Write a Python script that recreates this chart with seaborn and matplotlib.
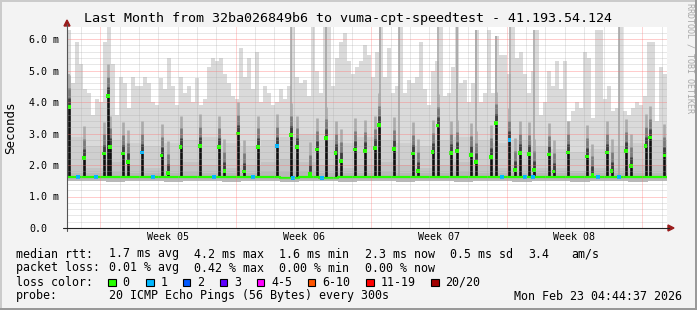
import numpy as np
import pandas as pd
import matplotlib
matplotlib.use("Agg")
import matplotlib.pyplot as plt
from matplotlib.patches import Rectangle, Polygon
from matplotlib.lines import Line2D
import seaborn as sns

sns.set_theme(style="white")
plt.rcParams['font.family'] = ['DejaVu Sans Mono', 'DejaVu Sans']

# ---------------- data ----------------
title = "Last Month from 32ba026849b6 to vuma-cpt-speedtest - 41.193.54.124"
ylabel = "Seconds"
week_labels = ["Week 05", "Week 06", "Week 07", "Week 08"]
ytick_values = [0, 1, 2, 3, 4, 5, 6]
ytick_labels = ["0.0", "1.0 m", "2.0 m", "3.0 m", "4.0 m", "5.0 m", "6.0 m"]

span_days = 31.0
# highest ping per time bin (150 bins across the month), ms
smoke_max = [6.3, 4.6, 5.9, 5.2, 4.4, 4.3, 3.6, 4.1, 4.0, 5.9,
             6.4, 5.2, 3.6, 4.8, 4.6, 3.8, 4.8, 4.5, 4.5, 4.8,
             4.6, 4.0, 3.9, 4.75, 4.4, 5.4, 4.5, 3.9, 4.8, 4.3,
             4.5, 4.0, 4.75, 3.9, 4.1, 5.1, 5.4, 5.3, 5.4, 4.9,
             4.6, 4.2, 4.1, 5.7, 4.8, 5.4, 4.4, 5.6, 4.0, 4.5,
             4.3, 3.9, 4.0, 4.4, 4.1, 4.5, 6.4, 4.8, 4.6, 4.7,
             4.2, 6.4, 5.0, 4.3, 6.4, 6.4, 4.5, 5.4, 5.9, 6.2,
             5.3, 4.9, 5.1, 5.3, 5.8, 5.5, 4.8, 5.6, 6.4, 4.8,
             5.7, 4.3, 4.5, 6.4, 4.3, 4.7, 4.6, 4.8, 5.9, 4.4,
             3.9, 5.0, 5.3, 6.4, 4.2, 4.3, 5.1, 6.4, 4.6, 4.7,
             4.0, 4.6, 6.3, 4.0, 4.3, 6.3, 4.3, 6.1, 5.5, 5.5,
             4.9, 6.4, 5.4, 5.6, 4.9, 4.3, 5.0, 6.3, 3.6, 4.0,
             5.0, 4.5, 5.3, 4.4, 5.3, 3.4, 3.7, 4.0, 3.8, 5.6,
             5.4, 3.5, 6.3, 6.3, 4.1, 4.5, 3.7, 3.8, 6.4, 3.7,
             3.6, 3.8, 4.0, 3.9, 4.2, 5.9, 5.9, 3.4, 5.1, 4.9]

# per-day smoke levels (31 days)
smoke_upper = [2.9, 2.6, 2.8, 2.7, 2.6, 2.7, 2.8, 2.9, 2.7, 2.6, 2.8, 2.9, 3.0, 2.8, 2.7, 2.9,
               2.8, 2.7, 2.6, 2.8, 2.9, 2.8, 2.7, 2.8, 2.6, 2.5, 2.4, 2.5, 2.6, 2.7, 2.8]
smoke_mid = [2.0, 1.9, 2.1, 2.0, 1.9, 2.0, 2.1, 2.0, 1.9, 2.0, 2.1, 2.2, 2.1, 2.0, 1.9, 2.0,
             2.1, 2.0, 1.9, 2.0, 2.1, 2.0, 1.9, 2.0, 1.9, 1.9, 1.8, 1.9, 1.9, 2.0, 2.0]
smoke_low = [1.76, 1.75, 1.77, 1.76, 1.75, 1.76, 1.77, 1.76, 1.75, 1.76, 1.77, 1.78, 1.77, 1.76, 1.75, 1.76,
             1.77, 1.76, 1.75, 1.76, 1.77, 1.76, 1.75, 1.76, 1.75, 1.75, 1.74, 1.75, 1.75, 1.76, 1.76]
smoke_min = [1.48, 1.48, 1.47, 1.48, 1.48, 1.47, 1.48, 1.48, 1.47, 1.48, 1.48, 1.47, 1.48, 1.48, 1.47, 1.48,
             1.48, 1.47, 1.48, 1.48, 1.47, 1.48, 1.48, 1.47, 1.48, 1.48, 1.47, 1.48, 1.48, 1.47, 1.48]
median_base = [1.62, 1.61, 1.62, 1.61, 1.61, 1.62, 1.62, 1.61, 1.61, 1.62, 1.61, 1.60, 1.61, 1.60, 1.61, 1.61,
               1.62, 1.61, 1.61, 1.62, 1.61, 1.62, 1.61, 1.61, 1.62, 1.61, 1.62, 1.61, 1.61, 1.62, 1.61]

# median spikes (day, ms, loss class)
spike_days = [0.12, 0.88, 1.90, 2.13, 2.22, 2.88, 3.14, 3.87, 4.89, 5.22,
              5.87, 6.87, 7.87, 8.13, 8.85, 9.13, 9.87, 10.86, 11.56, 11.90,
              12.54, 12.90, 13.38, 13.88, 14.16, 14.88, 15.38, 15.90, 16.13, 16.88,
              17.89, 18.13, 18.89, 19.15, 19.85, 20.15, 20.87, 21.13, 21.89, 22.15,
              22.86, 23.13, 23.39, 23.88, 24.12, 24.89, 25.14, 25.90, 26.85, 27.15,
              27.89, 28.14, 28.88, 29.14, 29.89, 30.13, 30.87]
spike_vals = [3.85, 2.23, 2.37, 4.20, 2.57, 2.36, 2.10, 2.40, 2.30, 1.75,
              2.57, 2.61, 2.57, 1.82, 3.00, 1.79, 2.57, 2.61, 2.96, 2.57,
              1.72, 2.49, 2.85, 2.39, 2.13, 2.49, 2.44, 2.55, 3.27, 2.51,
              2.36, 1.82, 2.42, 3.25, 2.39, 2.44, 2.32, 2.09, 2.26, 3.33,
              2.80, 1.85, 2.39, 2.35, 1.84, 2.33, 1.79, 2.40, 2.27, 1.68,
              2.40, 1.82, 2.45, 1.97, 2.61, 2.87, 2.30]
spike_loss = [0, 0, 0, 0, 0, 0, 0, 1, 0, 0,
              0, 0, 0, 0, 0, 0, 0, 1, 0, 0,
              0, 0, 0, 0, 0, 0, 0, 0, 0, 0,
              0, 0, 0, 0, 0, 0, 0, 0, 0, 0,
              1, 0, 0, 0, 0, 0, 0, 0, 0, 0,
              0, 0, 0, 0, 0, 0, 0]

# darker smoke trails reaching high
trail_days = [0.10, 11.57, 13.38, 16.15, 17.15, 19.15, 20.15, 21.13, 22.17, 22.89, 24.12, 28.52]
trail_tops = [4.9, 6.4, 6.4, 6.4, 6.4, 6.4, 6.4, 6.3, 6.1, 6.4, 6.3, 6.4]

# single-loss points on the baseline
loss1_days = [0.57, 1.50, 4.44, 7.59, 9.61, 11.68, 13.17, 22.47, 23.66, 24.07, 27.43, 28.52]

legend_lines = [
    [(0, "median rtt:"), (13, "1.7 ms avg"), (25, "4.2 ms max"), (37, "1.6 ms min"),
     (49, "2.3 ms now"), (61, "0.5 ms sd"), (72, "3.4"), (78, "am/s")],
    [(0, "packet loss:"), (13, "0.01 % avg"), (25, "0.42 % max"), (37, "0.00 % min"), (49, "0.00 % now")],
    [(0, "loss color:")],
    [(0, "probe:"), (13, "20 ICMP Echo Pings (56 Bytes) every 300s"), (70, "Mon Feb 23 04:44:37 2026")],
]
loss_labels = ["0", "1", "2", "3", "4-5", "6-10", "11-19", "20/20"]
loss_colors = ["#26ff00", "#00b8ff", "#0059ff", "#5e00ff", "#ff00ff", "#ff5500", "#ff0000", "#a10000"]
loss_box_x = [108, 146, 182.5, 219.5, 256.5, 307.5, 366, 431]

# ---------------- figure ----------------
W, H, DPI = 697, 310, 100
fig = plt.figure(figsize=(W / DPI, H / DPI), dpi=DPI, facecolor='#F3F3F3')

def fx(x):
    return x / W

def fy(y):
    return 1 - y / H

L, R, T, B = 67, 667, 27, 228
ax = fig.add_axes([fx(L), fy(B), (R - L) / W, (B - T) / H])
ax.set_facecolor('white')
ax.set_xlim(0, span_days)
ax.set_ylim(0, (B - T) / 31.5)
for s in ax.spines.values():
    s.set_visible(False)

n = len(smoke_max)
bw = span_days / n
edges = np.arange(n + 1) * bw
days = np.arange(len(smoke_upper) + 1)

def ext(v):
    return list(v) + [v[-1]]

ax.fill_between(edges, 0, ext(smoke_max), step='post', color='#DADADA', lw=0, zorder=1)
ax.fill_between(days, 0, ext(smoke_upper), step='post', color='#CFCFCF', lw=0, zorder=2)
ax.fill_between(days, 0, ext(smoke_mid), step='post', color='#C4C4C4', lw=0, zorder=3)
ax.fill_between(days, 0, ext(smoke_min), step='post', color='white', lw=0, zorder=3.5)
ax.fill_between(days, ext(smoke_min), ext(smoke_low), step='post', color='#B8B8B8', lw=0, zorder=4)

# trails
ax.vlines(trail_days, [median_base[int(d)] for d in trail_days], trail_tops,
          colors='#A0A0A0', lw=1.1, zorder=5)

# spikes with dark shading above
sb = [median_base[int(d)] for d in spike_days]
sv = np.array(spike_vals)
ax.vlines(spike_days, sv, sv + 1.0, colors='#ABABAB', lw=1.9, zorder=5.5)
ax.vlines(spike_days, sv, sv + 0.6, colors='#7A7A7A', lw=1.9, zorder=5.6)
ax.vlines(spike_days, sv, sv + 0.28, colors='#3C3C3C', lw=1.9, zorder=5.7)
ax.vlines(spike_days, sb, sv, colors='#111111', lw=1.9, zorder=6)

# median line
med_df = pd.DataFrame({"day": days, "median": ext(median_base)})
sns.lineplot(data=med_df, x="day", y="median", ax=ax, color='#26ff00', lw=1.6,
             drawstyle='steps-post', estimator=None, zorder=7)

# spike top points
top_df = pd.DataFrame({"day": spike_days, "val": spike_vals, "loss": spike_loss})
sns.scatterplot(data=top_df, x="day", y="val", hue="loss", palette={0: '#26ff00', 1: '#00b8ff'},
                marker='s', s=7, linewidth=0, ax=ax, legend=False, zorder=8)
l1_df = pd.DataFrame({"day": loss1_days, "val": [median_base[int(d)] for d in loss1_days]})
sns.scatterplot(data=l1_df, x="day", y="val", color='#00b8ff', marker='s', s=7, linewidth=0,
                ax=ax, legend=False, zorder=8)

# grid (drawn on top like rrdtool)
for v in np.arange(0.2, 6.39, 0.2):
    if abs(v - round(v)) < 1e-6:
        ax.axhline(v, color='#FF7070', alpha=0.7, lw=0.72, ls=(0, (1, 1)), zorder=10)
    else:
        ax.axhline(v, color='#A8A8A8', alpha=0.55, lw=0.72, ls=(0, (1, 1)), zorder=10)
week_start = 1.72
for k in range(-1, 31):
    d = week_start + k
    if d <= 0 or d >= span_days:
        continue
    if k % 7 == 0:
        ax.axvline(d, color='#FF7070', alpha=0.6, lw=0.72, ls=(0, (1, 1)), zorder=10)
    else:
        ax.axvline(d, color='#A8A8A8', alpha=0.55, lw=0.72, ls=(0, (1, 1)), zorder=10)

# ticks / labels
ax.set_yticks(ytick_values, ytick_labels)
for lab in ax.get_yticklabels():
    lab.set_ha('left')
ax.tick_params(axis='y', length=0, pad=27.2, labelsize=7.2, labelcolor='black')
ax.set_xticks([week_start + 3.5 + 7 * k for k in range(4)], week_labels)
ax.tick_params(axis='x', length=0, pad=3.2, labelsize=7.2, labelcolor='black')
ax.set_xlabel("")
ax.set_ylabel("")

# axes lines and arrows
fig.add_artist(Line2D([fx(67), fx(67)], [fy(231), fy(24)], color='#555555', lw=0.8,
                      transform=fig.transFigure))
fig.add_artist(Line2D([fx(63), fx(669)], [fy(228), fy(228)], color='#222222', lw=0.8,
                      transform=fig.transFigure))
fig.add_artist(Polygon([[fx(64), fy(26)], [fx(70), fy(26)], [fx(67), fy(20)]], closed=True,
                       color='#9A1C1C', transform=fig.transFigure))
fig.add_artist(Polygon([[fx(668), fy(225)], [fx(668), fy(231)], [fx(674), fy(228)]], closed=True,
                       color='#9A1C1C', transform=fig.transFigure))

# title etc.
fig.text(fx(348.5), fy(18.5), title, ha='center', va='center', fontsize=9.6, color='black')
fig.text(fx(11), fy(127.5), ylabel, ha='center', va='center', rotation=90, fontsize=9, color='black')
fig.text(fx(690), fy(58), "RRDTOOL / TOBI OETIKER", ha='center', va='center', rotation=270,
         fontsize=6, color='#A8A8A8')

cw = 7.12
line_y = [254, 268, 282, 296]
for ly, items in zip(line_y, legend_lines):
    for col, s in items:
        fig.text(fx(16 + col * cw), fy(ly), s, ha='left', va='center', fontsize=8.4, color='black')
for bx, c, lab in zip(loss_box_x, loss_colors, loss_labels):
    fig.add_artist(Rectangle((fx(bx), fy(286)), 7.5 / W, 7.5 / H, facecolor=c, edgecolor='black',
                             lw=0.8, transform=fig.transFigure))
    fig.text(fx(bx + 14.5), fy(282), lab, ha='left', va='center', fontsize=8.4, color='black')

# 3D frame
fig.add_artist(Rectangle((0, fy(2)), 1, 2 / H, facecolor='#CBCBCB', lw=0, transform=fig.transFigure))
fig.add_artist(Rectangle((0, 0), 2 / W, 1, facecolor='#CBCBCB', lw=0, transform=fig.transFigure))
fig.add_artist(Rectangle((0, 0), 1, 2 / H, facecolor='#999999', lw=0, transform=fig.transFigure))
fig.add_artist(Rectangle((fx(695), 0), 2 / W, 1, facecolor='#999999', lw=0, transform=fig.transFigure))

fig.savefig("out.png", dpi=DPI, facecolor=fig.get_facecolor())
